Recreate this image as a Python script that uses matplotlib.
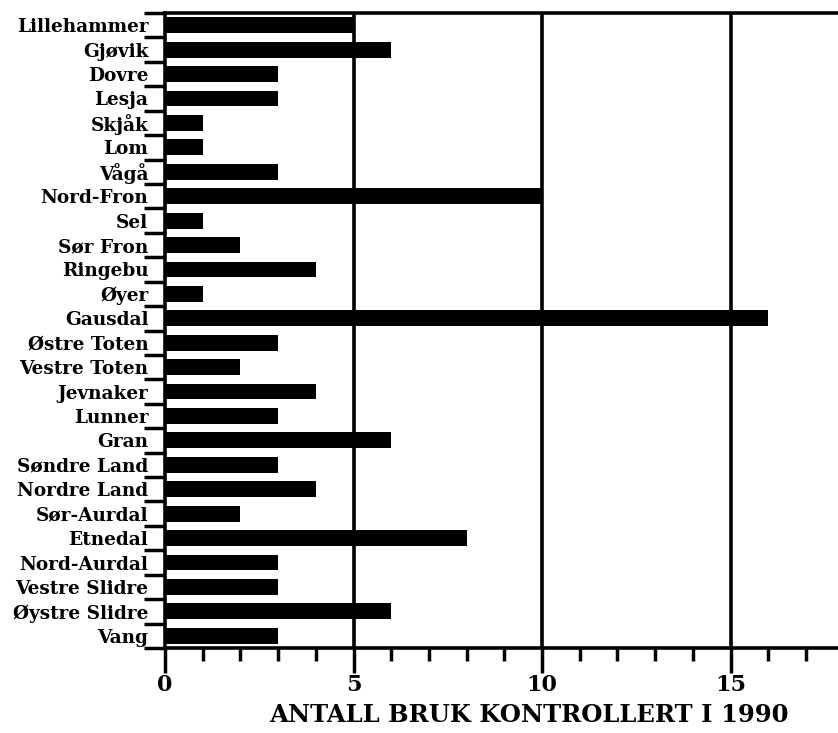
import matplotlib.pyplot as plt
import numpy as np
from matplotlib.ticker import MultipleLocator, FixedLocator

# Kommuner i Oppland og antall bruk kontrollert
kommuner = ['Lillehammer', 'Gjøvik', 'Dovre', 'Lesja', 'Skjåk', 'Lom', 'Vågå',
            'Nord-Fron', 'Sel', 'Sør Fron', 'Ringebu', 'Øyer', 'Gausdal',
            'Østre Toten', 'Vestre Toten', 'Jevnaker', 'Lunner', 'Gran',
            'Søndre Land', 'Nordre Land', 'Sør-Aurdal', 'Etnedal',
            'Nord-Aurdal', 'Vestre Slidre', 'Øystre Slidre', 'Vang']
antall = [5, 6, 3, 3, 1, 1, 3, 10, 1, 2, 4, 1, 16, 3, 2, 4, 3, 6, 3, 4, 2, 8,
          3, 3, 6, 3]
xticks = [0, 5, 10, 15]

plt.rcParams['font.family'] = ['DejaVu Serif']
plt.rcParams['font.weight'] = 'bold'

fig = plt.figure(figsize=(8.38, 7.33), dpi=100)
ax = fig.add_axes([165 / 838, 1 - 648 / 733, 1 - 165 / 838, (648 - 13) / 733])

y = np.arange(len(kommuner))
ax.barh(y, antall, height=0.65, color='black', zorder=3)
for v in xticks[1:]:
    ax.axvline(v, color='black', lw=2.6, zorder=2)

ax.set_ylim(len(kommuner) - 0.5, -0.5)
ax.set_xlim(0, 17.85)

ax.set_yticks(y)
ax.set_yticklabels(kommuner, fontsize=13.3)
ax.yaxis.set_minor_locator(FixedLocator(np.arange(-0.5, len(kommuner), 1)))
ax.tick_params(axis='y', which='major', length=0, pad=12)
ax.tick_params(axis='y', which='minor', length=15, width=2.5)

ax.set_xticks(xticks)
ax.set_xticklabels([str(t) for t in xticks], fontsize=16)
ax.xaxis.set_minor_locator(MultipleLocator(1))
ax.tick_params(axis='x', which='major', length=18, width=2.5, pad=1)
ax.tick_params(axis='x', which='minor', length=9, width=2.5)

for s in ['top', 'bottom', 'left']:
    ax.spines[s].set_linewidth(2.6)
ax.spines['right'].set_visible(False)

ax.set_xlabel('ANTALL BRUK KONTROLLERT I 1990', fontsize=17.5,
              fontweight='bold', labelpad=5, x=0.54)

fig.savefig('out.png', dpi=100)
